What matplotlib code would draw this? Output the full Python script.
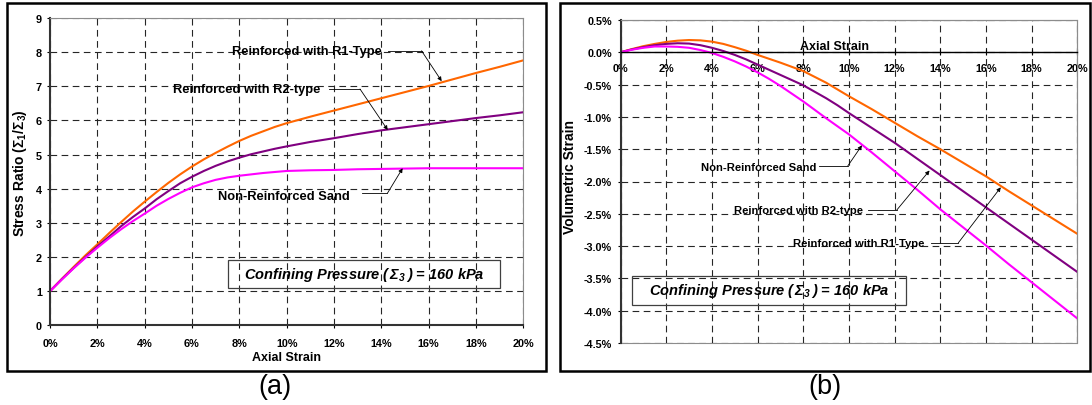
import matplotlib
matplotlib.use("Agg")
import matplotlib.pyplot as plt
from matplotlib.patches import Rectangle

plt.rcParams["font.family"] = ["Liberation Sans", "DejaVu Sans"]
plt.rcParams["mathtext.fontset"] = "custom"
plt.rcParams["mathtext.rm"] = "Liberation Sans:bold"
plt.rcParams["mathtext.bf"] = "Liberation Sans:bold"
plt.rcParams["mathtext.it"] = "Liberation Sans:italic:bold"
plt.rcParams["mathtext.bfit"] = "Liberation Sans:italic:bold"

# ---------------------------------------------------------------------------
# Triaxial test results, confining pressure 160 kPa
# ---------------------------------------------------------------------------
axial_strain = [0, 0.5, 1, 1.5, 2, 2.5, 3, 3.5, 4, 4.5, 5, 5.5, 6, 6.5, 7, 7.5,
                8, 8.5, 9, 9.5, 10, 11, 12, 13, 14, 15, 16, 17, 18, 19, 20]   # %

# (a) stress ratio sigma1 / sigma3
ratio_r1 = [1.00, 1.36, 1.71, 2.05, 2.37, 2.70, 3.02, 3.33, 3.62, 3.90, 4.17,
            4.42, 4.65, 4.86, 5.05, 5.23, 5.40, 5.55, 5.68, 5.81, 5.92,
            6.11, 6.29, 6.47, 6.65, 6.83, 7.01, 7.20, 7.39, 7.57, 7.76]
ratio_r2 = [1.00, 1.35, 1.68, 2.00, 2.31, 2.60, 2.90, 3.17, 3.42, 3.69, 3.93,
            4.16, 4.35, 4.52, 4.67, 4.80, 4.91, 5.01, 5.09, 5.17, 5.24,
            5.37, 5.48, 5.60, 5.71, 5.80, 5.89, 5.98, 6.07, 6.15, 6.24]
ratio_sand = [1.00, 1.34, 1.67, 1.98, 2.27, 2.55, 2.81, 3.05, 3.27, 3.50, 3.70,
              3.88, 4.04, 4.16, 4.26, 4.33, 4.38, 4.42, 4.46, 4.49, 4.52,
              4.54, 4.55, 4.57, 4.58, 4.59, 4.60, 4.60, 4.60, 4.60, 4.60]

# (b) volumetric strain, %
vol_r1 = [0, 0.05, 0.095, 0.13, 0.16, 0.18, 0.19, 0.185, 0.165, 0.13, 0.08,
          0.025, -0.04, -0.10, -0.16, -0.225, -0.29, -0.38, -0.47, -0.575, -0.68,
          -0.88, -1.09, -1.30, -1.50, -1.71, -1.92, -2.15, -2.37, -2.59, -2.81]
vol_r2 = [0, 0.045, 0.08, 0.11, 0.13, 0.14, 0.135, 0.11, 0.07, 0.02, -0.04,
          -0.11, -0.19, -0.27, -0.35, -0.43, -0.51, -0.61, -0.71, -0.82, -0.94,
          -1.17, -1.40, -1.65, -1.90, -2.15, -2.40, -2.65, -2.90, -3.15, -3.40]
vol_sand = [0, 0.04, 0.07, 0.09, 0.09, 0.085, 0.07, 0.035, -0.01, -0.07, -0.14,
            -0.22, -0.31, -0.41, -0.52, -0.64, -0.76, -0.89, -1.02, -1.145, -1.27,
            -1.55, -1.84, -2.13, -2.43, -2.71, -2.99, -3.28, -3.56, -3.84, -4.12]

strain_ticks = [0, 2, 4, 6, 8, 10, 12, 14, 16, 18, 20]
ratio_ticks = [0, 1, 2, 3, 4, 5, 6, 7, 8, 9]
vol_ticks = [0.5, 0.0, -0.5, -1.0, -1.5, -2.0, -2.5, -3.0, -3.5, -4.0, -4.5]

C_R1, C_R2, C_SAND = "#FF6600", "#800080", "#FF00FF"
CONFINING = r"Confining Pressure ($\mathbfit{\,\Sigma_{3}\,}$) = 160 kPa"

W, H = 1092, 406
fig = plt.figure(figsize=(W / 100, H / 100), dpi=100)
ax_a = fig.add_axes([50 / W, (H - 326.3) / H, 473.3 / W, 307.3 / H])
ax_b = fig.add_axes([620.5 / W, (H - 344) / H, 456.8 / W, 323 / H])

grid_kw = dict(color="0.15", lw=0.8, ls=(0, (6, 4)))
TICK_FS = 7.8


def leader(ax, text, tx, ty, x0, x1, yl, tip, fs):
    """Bold label with a short horizontal tail and an arrow to the curve."""
    ax.text(tx, ty, text, ha="center", va="center", fontsize=fs, fontweight="bold")
    ax.plot([x0, x1], [yl, yl], color="black", lw=0.6)
    ax.annotate("", xy=tip, xytext=(x1, yl),
                arrowprops=dict(arrowstyle="-|>", color="black", lw=0.6,
                                mutation_scale=6, shrinkA=0, shrinkB=0))


# ── (a) Stress ratio ────────────────────────────────────────────────────
ax = ax_a
ax.plot(axial_strain, ratio_r1, color=C_R1, lw=1.5)
ax.plot(axial_strain, ratio_r2, color=C_R2, lw=1.5)
ax.plot(axial_strain, ratio_sand, color=C_SAND, lw=1.5)
ax.set_xlim(0, 20); ax.set_ylim(0, 9)
ax.set_xticks(strain_ticks, [f"{v}%" for v in strain_ticks], fontsize=TICK_FS, fontweight="bold")
ax.set_yticks(ratio_ticks, [str(v) for v in ratio_ticks], fontsize=TICK_FS, fontweight="bold")
ax.tick_params(axis="x", length=2.5, pad=7)
ax.tick_params(axis="y", length=2.5, pad=3.2)
ax.grid(True, **grid_kw)
for s in ("top", "right"):
    ax.spines[s].set_color("0.55"); ax.spines[s].set_linewidth(0.8)
for s in ("left", "bottom"):
    ax.spines[s].set_color("0.2"); ax.spines[s].set_linewidth(1.5)
ax.set_xlabel("Axial Strain", fontsize=9, fontweight="bold")
ax.xaxis.set_label_coords(0.5, -0.085)
ax.set_ylabel(r"Stress Ratio ($\mathbf{\Sigma_1/\Sigma_3}$)", fontsize=10, fontweight="bold")
ax.yaxis.set_label_coords(-0.044, 0.5)

leader(ax, "Reinforced with R1-Type", 10.85, 8.04, 14.3, 15.7, 8.04, (16.55, 7.15), 9.3)
leader(ax, "Reinforced with R2-type", 8.3, 6.92, 11.8, 13.1, 6.92, (14.27, 5.72), 9.3)
leader(ax, "Non-Reinforced Sand", 9.9, 3.80, 13.2, 14.26, 3.87, (14.9, 4.60), 9.3)

ax.add_patch(Rectangle((7.52, 1.10), 11.51, 0.82, fill=False, ec="0.25", lw=0.9, zorder=3))
ax.text(13.27, 1.51, CONFINING, ha="center", va="center", fontsize=10.5,
        fontweight="bold", fontstyle="italic", zorder=4)

# ── (b) Volumetric strain ───────────────────────────────────────────────
ax = ax_b
# the strain axis runs along zero volumetric strain
ax.spines["bottom"].set_position(("data", 0))
ax.plot(axial_strain, vol_r1, color=C_R1, lw=1.5)
ax.plot(axial_strain, vol_r2, color=C_R2, lw=1.5)
ax.plot(axial_strain, vol_sand, color=C_SAND, lw=1.5)
ax.set_xlim(0, 20); ax.set_ylim(-4.5, 0.5)
ax.set_xticks(strain_ticks, [f"{v}%" for v in strain_ticks], fontsize=TICK_FS, fontweight="bold")
ax.set_yticks(vol_ticks, [f"{v:.1f}%" for v in vol_ticks], fontsize=TICK_FS, fontweight="bold")
ax.tick_params(axis="x", direction="inout", length=5, pad=5.5)
ax.tick_params(axis="y", length=2.5, pad=3.8)
ax.grid(True, **grid_kw)
ax.spines["bottom"].set_color("black"); ax.spines["bottom"].set_linewidth(1.0)
ax.spines["left"].set_color("0.2"); ax.spines["left"].set_linewidth(1.5)
for s in ("top", "right"):
    ax.spines[s].set_color("0.55"); ax.spines[s].set_linewidth(0.8)
ax.patch.set_edgecolor("0.55"); ax.patch.set_linewidth(0.8)
ax.set_ylabel("Volumetric Strain", fontsize=10, fontweight="bold")
ax.yaxis.set_label_coords(-0.095, 0.517)
ax.text(7.84, 0.1, "Axial Strain", ha="left", va="center", fontsize=9, fontweight="bold")

leader(ax, "Non-Reinforced Sand", 6.07, -1.775, 8.68, 9.95, -1.76, (10.57, -1.44), 8.1)
leader(ax, "Reinforced with R2-type", 7.78, -2.44, 10.83, 12.1, -2.44, (13.53, -1.83), 8.1)
leader(ax, "Reinforced with R1-Type", 10.42, -2.95, 13.6, 14.79, -2.95, (16.65, -2.09), 8.1)

ax.add_patch(Rectangle((0.49, -3.91), 12.02, 0.45, fill=False, ec="0.25", lw=0.9, zorder=3))
ax.text(6.5, -3.68, CONFINING, ha="center", va="center", fontsize=10.5,
        fontweight="bold", fontstyle="italic", zorder=4)

# ── outer frames and panel letters ──────────────────────────────────────
for x0, x1 in ((7, 546), (560, 1090)):
    fig.add_artist(Rectangle((x0 / W, (H - 372) / H), (x1 - x0) / W, 368 / H,
                             transform=fig.transFigure, fill=False, ec="black", lw=1.8))
fig.text(275 / W, 1 - 387 / H, "(a)", ha="center", va="center", fontsize=19.5)
fig.text(825 / W, 1 - 387 / H, "(b)", ha="center", va="center", fontsize=19.5)

fig.savefig("out.png", dpi=100)
